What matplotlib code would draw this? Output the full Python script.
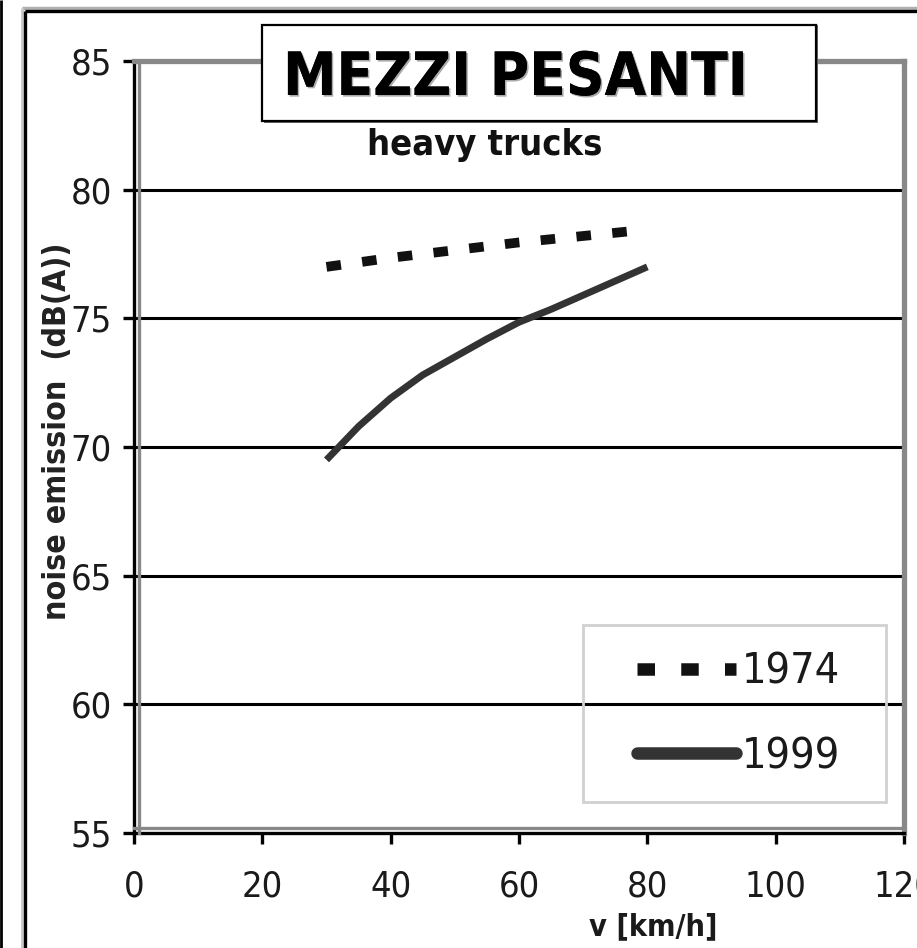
import matplotlib
matplotlib.use("Agg")
import matplotlib.pyplot as plt
from matplotlib import font_manager
from matplotlib.lines import Line2D
from matplotlib.patches import Rectangle
import matplotlib.patheffects as pe

# ---------------- data ----------------
speed_1974 = [30, 40, 50, 60, 70, 80]
noise_1974 = [77.0, 77.35, 77.65, 77.95, 78.2, 78.45]
speed_1999 = [30, 35, 40, 45, 50, 55, 60, 65, 70, 75, 80]
noise_1999 = [69.5, 70.8, 71.9, 72.8, 73.5, 74.2, 74.85, 75.35, 75.9, 76.45, 77.0]
series_labels = ["1974", "1999"]
x_ticks = [0, 20, 40, 60, 80, 100, 120]
y_ticks = [55, 60, 65, 70, 75, 80, 85]
title_text = "MEZZI PESANTI"
subtitle_text = "heavy trucks"
x_label = "v [km/h]"
y_label = "noise emission  (dB(A))"

# ---------------- font choice ----------------
names = {(f.name, f.stretch) for f in font_manager.fontManager.ttflist}
fam_names = {f.name for f in font_manager.fontManager.ttflist}
if "Liberation Sans Narrow" in fam_names:
    FONT = dict(family="Liberation Sans Narrow")
elif any(n == "DejaVu Sans" and s in ("condensed", "semi-condensed") for n, s in names):
    FONT = dict(family="DejaVu Sans", stretch="condensed")
else:
    FONT = dict(family="Roboto")

W, H = 917, 948
fig = plt.figure(figsize=(W / 100, H / 100), dpi=100)
fig.patch.set_facecolor("white")

def fx(px):
    return px / W

def fy(py):
    return 1 - py / H

L, R, T, B = 134, 904, 61, 833
ax = fig.add_axes([fx(L), fy(B), fx(R) - fx(L), fy(T) - fy(B)])
ax.set_xlim(0, 120)
ax.set_ylim(55, 85)

# grid
for yv in y_ticks[1:-1]:
    ax.axhline(yv, color="black", lw=2.2, zorder=1)

# data lines
ax.plot(speed_1974, noise_1974, color="#111111", lw=7.0, ls=(0, (1.5, 2.2)),
        solid_capstyle="butt", dash_capstyle="butt", zorder=3)
ax.plot(speed_1999, noise_1999, color="#333333", lw=5.0, solid_capstyle="butt",
        solid_joinstyle="round", zorder=3)

# spines
for s in ("top", "right"):
    ax.spines[s].set_color("#888888")
    ax.spines[s].set_linewidth(3.8)
for s in ("left", "bottom"):
    ax.spines[s].set_color("black")
    ax.spines[s].set_linewidth(2.4)
# inner gray edge along left / bottom
ax.plot([0.006, 0.006], [0, 1], transform=ax.transAxes, color="#888888", lw=2.4, clip_on=False, zorder=4)
ax.plot([0, 1], [0.006, 0.006], transform=ax.transAxes, color="#888888", lw=2.4, clip_on=False, zorder=4)

ax.set_xticks(x_ticks)
ax.set_yticks(y_ticks)
ax.set_xticklabels([str(v) for v in x_ticks])
ax.set_yticklabels([str(v) for v in y_ticks])
ax.tick_params(axis="both", direction="out", length=8, width=2.4, color="black")
ax.tick_params(axis="y", pad=8)
ax.tick_params(axis="x", pad=18)
for lab in ax.get_xticklabels() + ax.get_yticklabels():
    lab.set_fontproperties(font_manager.FontProperties(size=26, **FONT))
    lab.set_color("#1a1a1a")

ax.set_xlabel(x_label, fontsize=22, fontweight="bold", color="#1a1a1a", **FONT)
ax.xaxis.set_label_coords((653 - L) / (R - L), -(927 - B) / (B - T))
ax.set_ylabel(y_label, fontsize=23, fontweight="bold", color="#222222", **FONT)
ax.yaxis.set_label_coords(-(L - 58) / (R - L), (B - 431) / (B - T))
ax.yaxis.label.set_va("center")
ax.xaxis.label.set_va("center")

# legend (frame drawn separately)
handles = [
    Line2D([], [], color="#111111", lw=9.0, ls=(0, (1.4, 2.1)), dash_capstyle="butt"),
    Line2D([], [], color="#333333", lw=9.0, solid_capstyle="round"),
]
leg = ax.legend(handles, series_labels, loc="center right", frameon=False,
                bbox_to_anchor=((870 - L) / (R - L), (B - 714) / (B - T)),
                prop=font_manager.FontProperties(size=31, **FONT),
                handlelength=2.3, handletextpad=0.12, labelspacing=0.98,
                borderpad=0.2)
for t in leg.get_texts():
    t.set_color("#1a1a1a")
fig.patches.append(Rectangle((fx(583), fy(802)), fx(886) - fx(583), fy(625) - fy(802),
                             transform=fig.transFigure, fill=False,
                             edgecolor="#d0d0d0", lw=2.0, zorder=5))

# outer frame lines
def fline(x0, y0, x1, y1, color, lw):
    fig.add_artist(Line2D([fx(x0), fx(x1)], [fy(y0), fy(y1)], transform=fig.transFigure,
                          color=color, lw=lw, solid_capstyle="butt"))

fline(22, 8, 917, 8, "#b0b0b0", 2.5)
fline(22, 8, 22, 948, "#c8c8c8", 2.0)
fline(25, 11, 917, 11, "black", 2.4)
fline(25, 11, 25, 948, "black", 2.4)
fline(1, 0, 1, 948, "black", 2.0)

# title box
fig.patches.append(Rectangle((fx(264), fy(123)), fx(818) - fx(264), fy(25) - fy(123),
                             transform=fig.transFigure, facecolor="#666666",
                             edgecolor="none", zorder=6))
fig.patches.append(Rectangle((fx(262), fy(121)), fx(816) - fx(262), fy(25) - fy(121),
                             transform=fig.transFigure, facecolor="white",
                             edgecolor="black", lw=1.6, zorder=7))
fig.text(fx(283), fy(95), title_text, fontsize=43, fontweight="bold", color="black",
         ha="left", va="baseline", zorder=8,
         path_effects=[pe.withSimplePatchShadow(offset=(1.2, -1.2), shadow_rgbFace="#aaaaaa", alpha=1.0),
                       pe.Normal()], **FONT)
fig.text(fx(485), fy(155), subtitle_text, fontsize=26, fontweight="bold", color="#111111",
         ha="center", va="baseline", zorder=8, **FONT)

fig.savefig("out.png", dpi=100)
